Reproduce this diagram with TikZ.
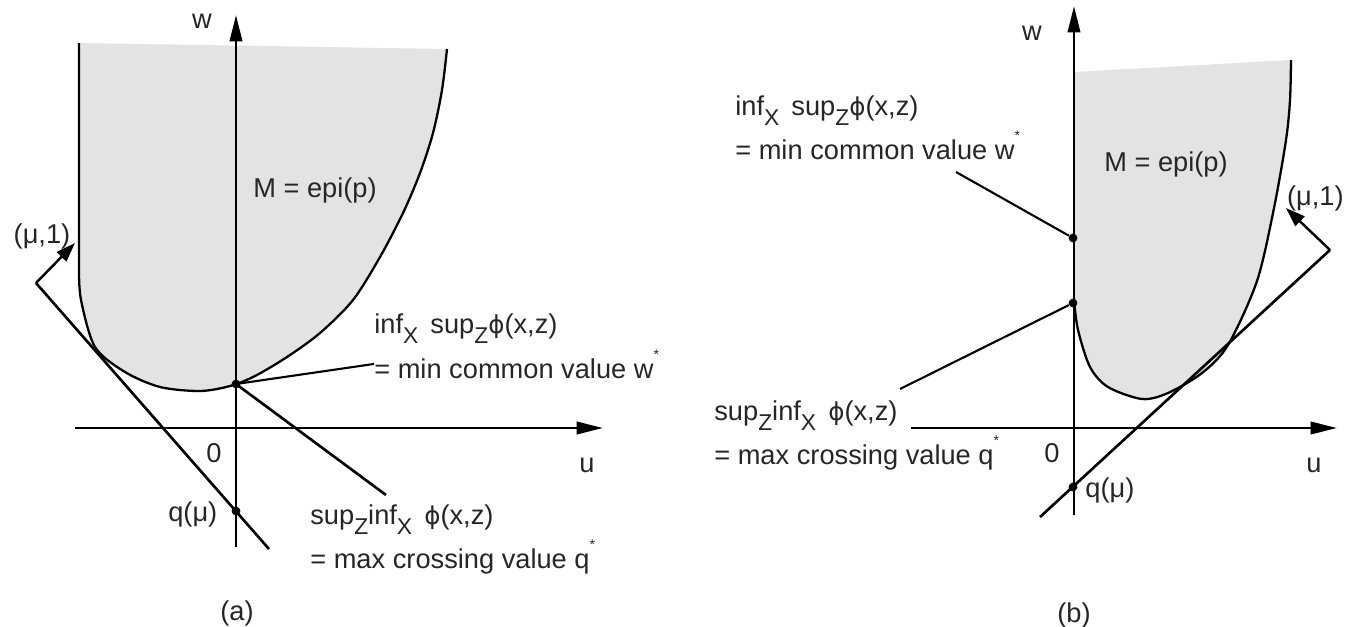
\documentclass[tikz,border=0pt]{standalone}
\usepackage{fontspec}
\setmainfont{Liberation Sans}
\newfontfamily\symfont{DejaVu Sans}
\usetikzlibrary{arrows.meta}

% lowered index, small star and straight phi as printed in the labels
\newcommand{\lowidx}[1]{\raisebox{-0.7ex}{\fontsize{13}{13}\selectfont #1}}
\newcommand{\starsup}{\raisebox{1.3ex}{\fontsize{8}{8}\selectfont *}}
\newcommand{\sphi}{{\symfont\fontsize{14}{14}\selectfont ϕ}}

\begin{document}
\begin{tikzpicture}[x=0.02cm, y=-0.02cm,
		font=\fontsize{15.5}{18}\selectfont,
		axis/.style={line width=1.6pt, -{Triangle[length=15pt,width=7pt]}},
		boundary/.style={line width=1.3pt},
		epifill/.style={fill=black!11},
		support/.style={line width=1.5pt},
		leader/.style={line width=1.2pt},
		normalvec/.style={line width=1.4pt, -{Triangle[length=11pt,width=7.5pt]}},
		dot/.style={circle, fill, inner sep=0pt, minimum size=5pt},
		lbl/.style={inner sep=0pt, text=black!85}]
		\useasboundingbox (0,0) rectangle (1345,626);

		% Define the macro.
		% 1st argument: x of the w axis.
		% 2nd argument: y of the u axis.
		% 3rd argument: left end of the u axis.
		% 4th argument: tip of the u axis.
		% 5th argument: bottom end of the w axis.
		% 6th argument: tip of the w axis.
		% 7th argument: suffix for the node names.
		\newcommand{\drawAxes}[7]{
			\draw[axis] (#3,#2) -- (#4,#2);
			\draw[axis] (#1,#5) -- (#1,#6);
			\node[lbl, anchor=base] (zero#7) at (#1-22,#2+34) {0};
		}

		% PANEL (a): w* = q*
		\fill[epifill] (79,43) -- (447,49) -- plot[smooth] coordinates {(447,49) (442,90) (433,133) (420,173) (403,213) (380,257) (353,300) (320,333) (287,357) (255,376) (230,386) (200,391) (160,387) (125,372) (95,347) (81,300) (79,270)} -- cycle;
		\draw[boundary] plot[smooth] coordinates {(447,49) (442,90) (433,133) (420,173) (403,213) (380,257) (353,300) (320,333) (287,357) (255,376) (230,386) (200,391) (160,387) (125,372) (95,347) (81,300) (79,270)} -- (79,43);
		\drawAxes{236}{428}{75}{603}{547}{15}{A}
		\node[lbl, anchor=base] (wlabelA) at (202,28) {w};
		\node[lbl, anchor=base] (ulabelA) at (587,472) {u};

		\node[dot] (wstarA) at (236,384) {};
		\node[dot] (qdotA) at (236,511) {};
		\coordinate (cornerA) at (36,283);
		\coordinate (tipA) at (75,243);
		\coordinate (tendA) at (269,549);
		\coordinate (lendA) at (386,495);

		\node[lbl, anchor=base west] (epiA) at (253,197) {M = epi(p)};
		\node[lbl, anchor=base west] (infsupA) at (374,333) {inf\lowidx{X}\, sup\lowidx{Z}\sphi(x,z)};
		\node[lbl, anchor=base west] (mincvA) at (374,378) {= min common value w\starsup};
		\node[lbl, anchor=base west] (supinfA) at (310,524) {sup\lowidx{Z}inf\lowidx{X}\, \sphi(x,z)};
		\node[lbl, anchor=base west] (maxcvA) at (310,568) {= max crossing value q\starsup};
		\node[lbl, anchor=base west] (qmuA) at (168,521) {q(μ)};
		\node[lbl, anchor=base] (muA) at (42,243) {(μ,1)};
		\node[lbl, anchor=base] (capA) at (237,620) {(a)};

		\draw[support] (cornerA) -- (tendA);
		\draw[normalvec] (cornerA) -- (tipA);
		\draw[support] (wstarA.center) -- (lendA);
		\draw[leader] (wstarA.center) -- (mincvA.west);

		% PANEL (b): w* > q*
		\fill[epifill] (1074,72) -- (1291,60) -- plot[smooth] coordinates {(1291,60) (1290,100) (1286,140) (1274,208) (1257,281) (1228,345) (1202,373) (1168,393) (1142,399) (1108,387) (1090,367) (1078,330) (1074,300)} -- cycle;
		\draw[boundary] plot[smooth] coordinates {(1291,60) (1290,100) (1286,140) (1274,208) (1257,281) (1228,345) (1202,373) (1168,393) (1142,399) (1108,387) (1090,367) (1078,330) (1074,300)};
		\drawAxes{1074}{428}{911}{1337}{515}{6}{B}
		\node[lbl, anchor=base] (wlabelB) at (1032,40) {w};
		\node[lbl, anchor=base] (ulabelB) at (1314,472) {u};

		\node[dot] (wstarB) at (1073,238) {};
		\node[dot] (qstarB) at (1073,303) {};
		\node[dot] (qdotB) at (1073,487) {};
		\coordinate (tstartB) at (1040,517);
		\coordinate (cornerB) at (1330,250);
		\coordinate (tipB) at (1286,208);
		\coordinate (lwB) at (956,172);
		\coordinate (lqB) at (900,389);

		\node[lbl, anchor=base west] (infsupB) at (735,115) {inf\lowidx{X}\, sup\lowidx{Z}\sphi(x,z)};
		\node[lbl, anchor=base west] (mincvB) at (735,159) {= min common value w\starsup};
		\node[lbl, anchor=base west] (epiB) at (1104,171) {M = epi(p)};
		\node[lbl, anchor=base west] (supinfB) at (714,420) {sup\lowidx{Z}inf\lowidx{X}\, \sphi(x,z)};
		\node[lbl, anchor=base west] (maxcvB) at (714,464) {= max crossing value q\starsup};
		\node[lbl, anchor=base west] (qmuB) at (1085,497) {q(μ)};
		\node[lbl, anchor=base east] (muB) at (1344,205) {(μ,1)};
		\node[lbl, anchor=base] (capB) at (1074,622) {(b)};

		\draw[support] (tstartB) -- (cornerB);
		\draw[normalvec] (cornerB) -- (tipB);
		\draw[leader] (lwB) -- (wstarB);
		\draw[leader] (lqB) -- (qstarB);

	\end{tikzpicture}
\end{document}
